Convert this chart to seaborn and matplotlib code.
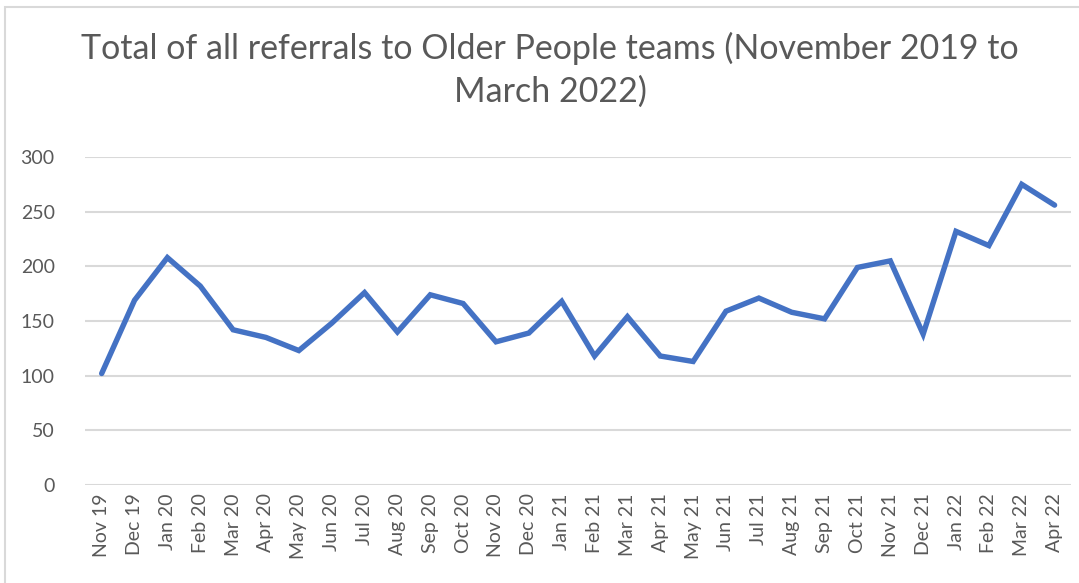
import matplotlib
matplotlib.use("Agg")
import matplotlib.pyplot as plt
import seaborn as sns
import pandas as pd
from matplotlib.patches import Rectangle

months = ["Nov 19", "Dec 19", "Jan 20", "Feb 20", "Mar 20", "Apr 20", "May 20", "Jun 20",
          "Jul 20", "Aug 20", "Sep 20", "Oct 20", "Nov 20", "Dec 20", "Jan 21", "Feb 21",
          "Mar 21", "Apr 21", "May 21", "Jun 21", "Jul 21", "Aug 21", "Sep 21", "Oct 21",
          "Nov 21", "Dec 21", "Jan 22", "Feb 22", "Mar 22", "Apr 22"]
referrals = [102, 169, 208, 182, 142, 135, 123, 148, 176, 140, 174, 166, 131, 139, 168, 118,
             154, 118, 113, 159, 171, 158, 152, 199, 205, 138, 232, 219, 275, 256]
yticks = [0, 50, 100, 150, 200, 250, 300]
title = "Total of all referrals to Older People teams (November 2019 to\nMarch 2022)"

sns.set_theme(style="white")
plt.rcParams["font.family"] = ["Lato", "DejaVu Sans"]

df = pd.DataFrame({"pos": range(len(months)), "month": months, "value": referrals})

fig = plt.figure(figsize=(10.79, 5.83), dpi=100)
ax = fig.add_axes([0.079, 0.168, 0.9136, 0.5627])

ax.set_axisbelow(True)
sns.lineplot(data=df, x="pos", y="value", ax=ax, color="#4472C4", linewidth=3.9,
             solid_capstyle="round", solid_joinstyle="miter")

ax.set_xlim(-0.5, len(months) - 0.5)
ax.set_ylim(0, 300)
ax.set_yticks(yticks)
ax.set_yticklabels([str(v) for v in yticks])
ax.set_xticks(list(df["pos"]))
ax.set_xticklabels(months, rotation=90)
ax.yaxis.grid(True, color="#D9D9D9", linewidth=1.5)
ax.xaxis.grid(False)
for s in ax.spines.values():
    s.set_visible(False)
ax.tick_params(axis="both", length=0, colors="#595959", labelsize=14)
ax.tick_params(axis="y", pad=22)
ax.tick_params(axis="x", pad=6)
ax.set_xlabel("")
ax.set_ylabel("")

fig.text(0.51, 0.945, title, ha="center", va="top", fontsize=24.5, color="#595959",
         linespacing=1.4)

fig.patches.append(Rectangle((0.005, -0.01), 1.2, 0.998, transform=fig.transFigure,
                             fill=False, edgecolor="#D9D9D9", linewidth=1.5))

fig.savefig("out.png", dpi=100, facecolor="white")
